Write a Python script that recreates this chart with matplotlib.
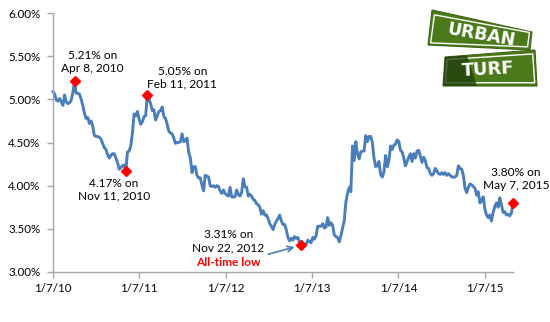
import matplotlib
matplotlib.use("Agg")
import matplotlib.pyplot as plt
from matplotlib.patches import Polygon
import pandas as pd

# --- weekly 30-year fixed rate (%)
rates_2010 = [5.09, 5.06, 4.99, 4.98, 5.01, 4.97, 4.93, 5.05, 4.97, 4.95, 4.96, 4.99, 5.08,
              5.21, 5.07, 5.07, 5.06, 5.00, 4.93, 4.84, 4.78, 4.79, 4.72, 4.75, 4.69, 4.58,
              4.57, 4.57, 4.56, 4.54, 4.49, 4.44, 4.42, 4.36, 4.32, 4.35, 4.37, 4.37, 4.32,
              4.27, 4.19, 4.21, 4.23, 4.24, 4.17, 4.39, 4.40, 4.46, 4.61, 4.83, 4.81, 4.86]
rates_2011 = [4.77, 4.71, 4.74, 4.80, 4.81, 5.05, 5.00, 4.95, 4.87, 4.88, 4.76, 4.81, 4.86,
              4.87, 4.91, 4.80, 4.78, 4.71, 4.63, 4.61, 4.60, 4.55, 4.49, 4.50, 4.50, 4.51,
              4.60, 4.51, 4.52, 4.55, 4.39, 4.32, 4.15, 4.22, 4.22, 4.12, 4.09, 4.09, 4.01,
              3.94, 4.12, 4.11, 4.10, 4.00, 3.99, 4.00, 3.98, 4.00, 3.99, 3.94, 3.91, 3.95]
rates_2012 = [3.91, 3.89, 3.88, 3.98, 3.87, 3.87, 3.87, 3.95, 3.90, 3.88, 3.92, 4.08, 3.99,
              3.98, 3.88, 3.90, 3.88, 3.84, 3.83, 3.79, 3.78, 3.75, 3.67, 3.71, 3.66, 3.66,
              3.62, 3.56, 3.53, 3.49, 3.55, 3.59, 3.62, 3.66, 3.59, 3.55, 3.55, 3.49, 3.40,
              3.36, 3.39, 3.37, 3.41, 3.39, 3.40, 3.34, 3.31, 3.32, 3.31, 3.32, 3.37, 3.35]
rates_2013 = [3.34, 3.40, 3.38, 3.42, 3.53, 3.53, 3.53, 3.56, 3.51, 3.52, 3.63, 3.54, 3.57,
              3.54, 3.43, 3.41, 3.40, 3.35, 3.42, 3.51, 3.59, 3.81, 3.91, 3.98, 3.93, 4.46,
              4.29, 4.51, 4.37, 4.31, 4.39, 4.40, 4.40, 4.58, 4.51, 4.57, 4.57, 4.50, 4.32,
              4.22, 4.23, 4.28, 4.13, 4.10, 4.16, 4.35, 4.22, 4.29, 4.46, 4.42, 4.47, 4.48]
rates_2014 = [4.53, 4.51, 4.41, 4.39, 4.32, 4.23, 4.28, 4.33, 4.37, 4.28, 4.37, 4.32, 4.40,
              4.41, 4.34, 4.27, 4.33, 4.29, 4.21, 4.20, 4.14, 4.12, 4.14, 4.20, 4.17, 4.14,
              4.13, 4.15, 4.13, 4.15, 4.12, 4.14, 4.12, 4.10, 4.10, 4.10, 4.12, 4.23, 4.20,
              4.19, 4.12, 3.97, 3.92, 3.98, 4.02, 4.01, 3.99, 3.97, 3.89, 3.93, 3.80, 3.83, 3.87]
rates_2015 = [3.73, 3.66, 3.63, 3.66, 3.59, 3.69, 3.76, 3.80, 3.75, 3.86, 3.78, 3.69, 3.70,
              3.66, 3.67, 3.65, 3.68, 3.80]

rates = rates_2010 + rates_2011 + rates_2012 + rates_2013 + rates_2014 + rates_2015
dates = pd.date_range("2010-01-07", periods=len(rates), freq="7D")

# highlighted points
hl_dates = pd.to_datetime(["2010-04-08", "2010-11-11", "2011-02-10", "2012-11-22", "2015-05-07"])
hl_vals = [5.21, 4.17, 5.05, 3.31, 3.80]
hl_text = ["5.21% on\nApr 8, 2010", "4.17% on\nNov 11, 2010", "5.05% on\nFeb 11, 2011",
           "3.31% on\nNov 22, 2012", "3.80% on\nMay 7, 2015"]
hl_offset = [(18, 19), (-12, -19), (35, 17), (-73, 4), (3, 24)]   # pixels from the marker

tick_dates = pd.to_datetime(["2010-01-07", "2011-01-07", "2012-01-07",
                             "2013-01-07", "2014-01-07", "2015-01-07"])
tick_labels = ["1/7/10", "1/7/11", "1/7/12", "1/7/13", "1/7/14", "1/7/15"]
y_ticks = [3.0, 3.5, 4.0, 4.5, 5.0, 5.5, 6.0]

plt.rcParams["font.family"] = ["Lato", "DejaVu Sans"]
W, H = 550, 322
fig = plt.figure(figsize=(W / 100, H / 100), dpi=100)
ax = fig.add_axes([53 / W, 50 / H, 460 / W, 259 / H])

line_color = "#4a7ebb"
ax.plot(dates, rates, color=line_color, lw=2.1, solid_joinstyle="round", clip_on=False)
ax.plot(hl_dates, hl_vals, "D", color="red", ms=5.5, mec="red", zorder=5, clip_on=False)

for d, v, t, off in zip(hl_dates, hl_vals, hl_text, hl_offset):
    ax.annotate(t, (d, v), xytext=off, textcoords="offset pixels",
                ha="center", va="center", fontsize=8.6, color="black", linespacing=1.2)

# "All-time low" + arrow to the low point
ax.annotate("All-time low", (hl_dates[3], hl_vals[3]), xytext=(-73, -17),
            textcoords="offset pixels", ha="center", va="center",
            fontsize=8.6, color="red", fontweight="bold")
ax.annotate("", (hl_dates[3], hl_vals[3]), xytext=(-33, -9), textcoords="offset pixels",
            arrowprops=dict(arrowstyle="->", color=line_color, lw=1.2,
                            shrinkA=0, shrinkB=5))

ax.set_xlim(dates[0], dates[-1])
ax.set_ylim(3.0, 6.0)
ax.set_xticks(tick_dates)
ax.set_xticklabels(tick_labels)
ax.set_yticks(y_ticks)
ax.set_yticklabels([f"{v:.2f}%" for v in y_ticks])

for s in ["top", "right"]:
    ax.spines[s].set_visible(False)
for s in ["left", "bottom"]:
    ax.spines[s].set_color("#a6a6a6")
    ax.spines[s].set_linewidth(1.0)
ax.tick_params(axis="both", colors="#a6a6a6", labelcolor="black", labelsize=8.4,
               direction="out", length=4, width=1)
ax.tick_params(axis="x", pad=4)
ax.tick_params(axis="y", pad=5)


# --- Urban Turf logo (pixel coords measured from the top-left)
def px(pts):
    return [(x / W, 1 - y / H) for x, y in pts]


def inset(pts, fx, fy):
    cx = sum(p[0] for p in pts) / len(pts)
    cy = sum(p[1] for p in pts) / len(pts)
    return [(cx + fx * (x - cx), cy + fy * (y - cy)) for x, y in pts]


green = "#4b7a1b"
top_sign = [(432, 10), (532, 32), (530, 50), (428, 45)]
low_sign = [(445, 57), (535, 50), (537, 86), (443, 86)]
shadow = [(445, 57), (467, 55.5), (477, 86), (443, 86)]

for poly in (top_sign, low_sign):
    fig.patches.append(Polygon(px(poly), closed=True, fc=green, ec="#3c6414", lw=0.8,
                               transform=fig.transFigure))
    fig.patches.append(Polygon(px(inset(poly, 0.95, 0.8)), closed=True, fc="none",
                               ec="white", lw=1.0, transform=fig.transFigure))
fig.patches.append(Polygon(px(shadow), closed=True, fc="#22400d", ec="none", alpha=0.8,
                           transform=fig.transFigure))

fig.text(481 / W, 1 - 35 / H, "URBAN", ha="center", va="center", color="white",
         fontsize=12.5, fontweight="bold", rotation=-10, family="DejaVu Sans")
fig.text(488 / W, 1 - 70 / H, "TURF", ha="center", va="center", color="white",
         fontsize=13, fontweight="bold", rotation=3, family="DejaVu Sans")

fig.savefig("out.png", dpi=100)
